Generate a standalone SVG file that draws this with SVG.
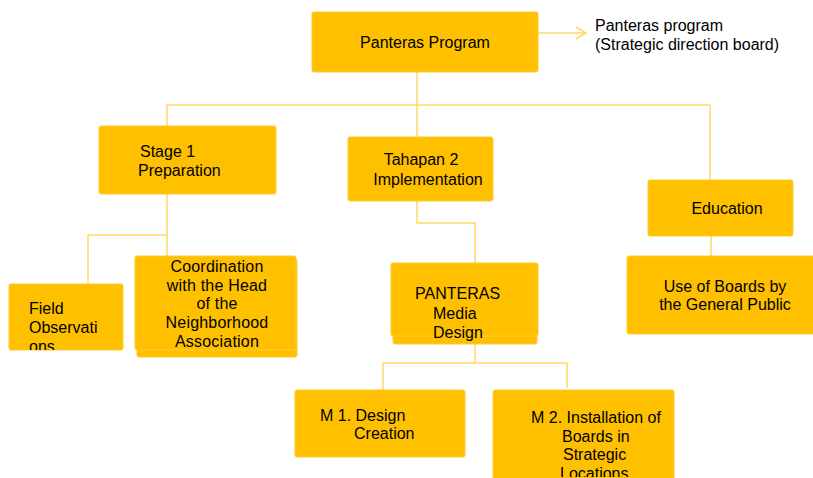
<svg xmlns="http://www.w3.org/2000/svg" width="813" height="478" viewBox="0 0 813 478">
  <style>
    .box { fill: #FFC000; stroke: #FFCB33; stroke-width: 1; }
    .lbl { font-family: "Liberation Sans", Arial, sans-serif; font-size: 16px; fill: #000000; }
    .c { text-anchor: middle; }
    .conn { fill: none; stroke: #FFD966; stroke-width: 1.5; }
  </style>
  <defs>
    <clipPath id="clipField"><rect x="9" y="284" width="114" height="66"/></clipPath>
    <clipPath id="clipM2"><rect x="493" y="390" width="181" height="87"/></clipPath>
  </defs>
  <rect width="813" height="478" fill="#FFFFFF"/>

  <g id="connectors">
    <polyline class="conn" points="538,33 585,33"/>
    <polyline class="conn" points="576,27 586,33 576,39"/>
    <line class="conn" x1="417" y1="72" x2="417" y2="105"/>
    <line class="conn" x1="166" y1="105" x2="710" y2="105"/>
    <line class="conn" x1="167" y1="105" x2="167" y2="126"/>
    <line class="conn" x1="417" y1="105" x2="417" y2="137"/>
    <line class="conn" x1="710" y1="105" x2="710" y2="180"/>
    <line class="conn" x1="167" y1="194" x2="167" y2="256"/>
    <polyline class="conn" points="167,235 88,235 88,284"/>
    <polyline class="conn" points="417,201 417,223 475,223 475,263"/>
    <line class="conn" x1="475" y1="344" x2="475" y2="363"/>
    <polyline class="conn" points="383,390 383,363 567,363 567,388"/>
    <line class="conn" x1="711" y1="236" x2="711" y2="256"/>
  </g>

  <g id="panteras-program">
    <rect class="box" x="312" y="12" width="226" height="60" rx="2"/>
    <text class="lbl c" x="425" y="48">Panteras Program</text>
  </g>

  <g id="strategic-board">
    <text class="lbl" x="595" y="31">Panteras program</text>
    <text class="lbl" x="595" y="50">(Strategic direction board)</text>
  </g>

  <g id="stage1">
    <rect class="box" x="99" y="126" width="177" height="68" rx="2"/>
    <text class="lbl" x="140" y="157">Stage 1</text>
    <text class="lbl" x="138" y="176">Preparation</text>
  </g>

  <g id="tahapan2">
    <rect class="box" x="348" y="137" width="145" height="64" rx="2"/>
    <text class="lbl c" x="421" y="165">Tahapan 2</text>
    <text class="lbl c" x="428" y="185">Implementation</text>
  </g>

  <g id="education">
    <rect class="box" x="648" y="180" width="145" height="56" rx="2"/>
    <text class="lbl c" x="727" y="214">Education</text>
  </g>

  <g id="field-observations">
    <rect class="box" x="9" y="284" width="114" height="66" rx="2"/>
    <g clip-path="url(#clipField)">
      <text class="lbl" x="29" y="314">Field</text>
      <text class="lbl" x="29" y="333">Observati</text>
      <text class="lbl" x="29" y="352">ons</text>
    </g>
  </g>

  <g id="coordination">
    <rect class="box" x="137" y="259" width="160" height="98" rx="2"/>
    <rect class="box" x="135" y="256" width="161" height="94" rx="2"/>
    <text class="lbl c" x="217" y="272" letter-spacing="0.2">Coordination</text>
    <text class="lbl c" x="217" y="291" letter-spacing="0.2">with the Head</text>
    <text class="lbl c" x="217" y="309" letter-spacing="0.2">of the</text>
    <text class="lbl c" x="217" y="328" letter-spacing="0.2">Neighborhood</text>
    <text class="lbl c" x="217" y="347" letter-spacing="0.2">Association</text>
  </g>

  <g id="panteras-media">
    <rect class="box" x="393" y="266" width="144" height="78" rx="2"/>
    <rect class="box" x="391" y="263" width="147" height="73" rx="2"/>
    <text class="lbl" x="415" y="299">PANTERAS</text>
    <text class="lbl" x="433" y="319">Media</text>
    <text class="lbl" x="433" y="338">Design</text>
  </g>

  <g id="use-of-boards">
    <rect class="box" x="627" y="256" width="190" height="78" rx="2"/>
    <text class="lbl c" x="725" y="292">Use of Boards by</text>
    <text class="lbl c" x="725" y="310">the General Public</text>
  </g>

  <g id="m1">
    <rect class="box" x="295" y="390" width="170" height="67" rx="2"/>
    <text class="lbl" x="320" y="421">M 1. Design</text>
    <text class="lbl" x="354" y="439">Creation</text>
  </g>

  <g id="m2">
    <rect class="box" x="493" y="390" width="181" height="92" rx="2"/>
    <g clip-path="url(#clipM2)">
      <text class="lbl" x="531" y="423">M 2. Installation of</text>
      <text class="lbl" x="562" y="442">Boards in</text>
      <text class="lbl" x="563" y="460">Strategic</text>
      <text class="lbl" x="560" y="479">Locations</text>
    </g>
  </g>
</svg>
